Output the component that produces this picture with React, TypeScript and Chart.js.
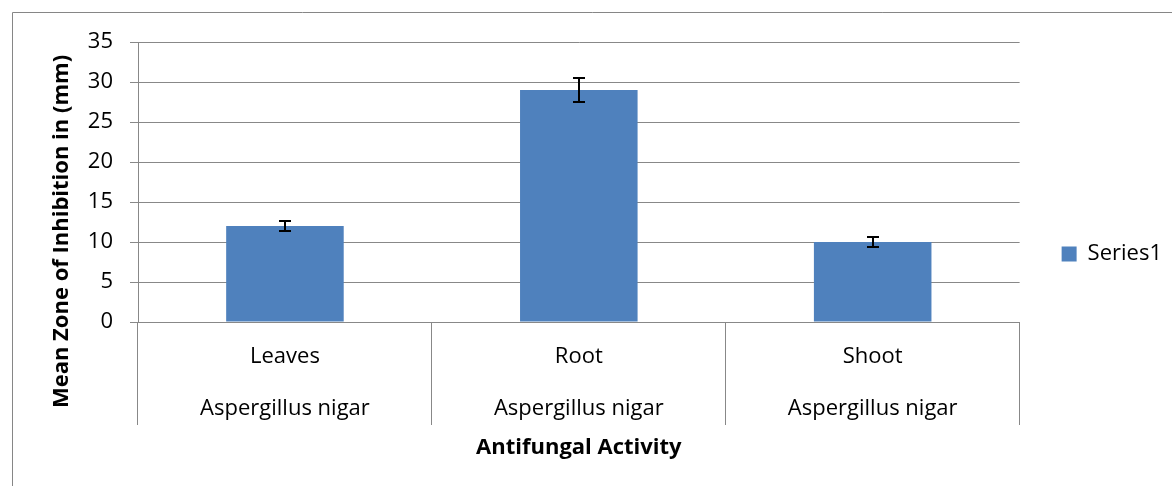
import React, { useEffect, useRef } from "react";
import { Chart, registerables } from "chart.js";

Chart.register(...registerables);

const categories = ["Leaves", "Root", "Shoot"];
const groupLabel = "Aspergillus nigar";
const seriesName = "Series1";
const values = [12, 29, 10];
const errors = [0.6, 1.5, 0.6];
const yMin = 0;
const yMax = 35;
const yStep = 5;
const xTitle = "Antifungal Activity";
const yTitle = "Mean Zone of Inhibition in (mm)";

const GRID = "#888888";
const FONT = "'Open Sans'";
const X_TICK_LEN = 103;

const framePlugin = {
  id: "frame",
  beforeDraw(chart: any) {
    const ctx = chart.ctx;
    ctx.save();
    ctx.fillStyle = "#ffffff";
    ctx.fillRect(0, 0, chart.width, chart.height);
    ctx.strokeStyle = "#868686";
    ctx.lineWidth = 1;
    ctx.beginPath();
    ctx.moveTo(12.5, chart.height);
    ctx.lineTo(12.5, 12.5);
    ctx.lineTo(chart.width, 12.5);
    ctx.stroke();
    ctx.restore();
  },
};

const yTitlePlugin = {
  id: "yTitle",
  afterDraw(chart: any) {
    const ctx = chart.ctx;
    const yScale = chart.scales.y;
    const xScale = chart.scales.x;
    const top = yScale.top;
    const bottom = xScale.top + X_TICK_LEN;
    const cy = (top + bottom) / 2 - 2;
    const cx = yScale.left + 62;
    ctx.save();
    ctx.translate(cx, cy);
    ctx.rotate(-Math.PI / 2);
    ctx.font = `bold 22px ${FONT}`;
    ctx.fillStyle = "#000000";
    ctx.textAlign = "center";
    ctx.textBaseline = "middle";
    ctx.fillText(yTitle, 0, 0);
    ctx.restore();
  },
};

const errorBarPlugin = {
  id: "errorBars",
  afterDatasetsDraw(chart: any) {
    const ctx = chart.ctx;
    const yScale = chart.scales.y;
    const meta = chart.getDatasetMeta(0);
    ctx.save();
    ctx.strokeStyle = "#000000";
    ctx.lineWidth = 2;
    meta.data.forEach((bar: any, i: number) => {
      const x = Math.round(bar.x);
      const top = Math.round(yScale.getPixelForValue(values[i] + errors[i]));
      const bot = Math.round(yScale.getPixelForValue(values[i] - errors[i]));
      ctx.beginPath();
      ctx.moveTo(x, top);
      ctx.lineTo(x, bot);
      ctx.moveTo(x - 6, top);
      ctx.lineTo(x + 6, top);
      ctx.moveTo(x - 6, bot);
      ctx.lineTo(x + 6, bot);
      ctx.stroke();
    });
    ctx.restore();
  },
};

export default function App() {
  const ref = useRef<HTMLCanvasElement | null>(null);

  useEffect(() => {
    if (!ref.current) return;
    Chart.defaults.font.family = FONT;
    Chart.defaults.color = "#000000";
    const chart = new Chart(ref.current, {
      type: "bar",
      data: {
        labels: categories.map((c) => [c, groupLabel]),
        datasets: [
          {
            label: seriesName,
            data: values,
            backgroundColor: "#4f81bd",
            borderWidth: 0,
            categoryPercentage: 1,
            barPercentage: 0.4,
          },
        ],
      },
      options: {
        animation: false,
        responsive: false,
        layout: { padding: { top: 42, left: 0, right: 0, bottom: 20 } },
        plugins: {
          legend: {
            position: "right",
            align: "center",
            labels: {
              boxWidth: 15,
              boxHeight: 15,
              padding: 10,
              font: { size: 22, family: FONT },
              color: "#000000",
            },
          },
          tooltip: { enabled: false },
        },
        scales: {
          x: {
            offset: true,
            grid: {
              offset: true,
              drawOnChartArea: false,
              drawTicks: true,
              tickLength: X_TICK_LEN,
              color: GRID,
              lineWidth: 1,
            },
            border: { display: true, color: GRID, width: 1 },
            ticks: {
              padding: -94,
              maxRotation: 0,
              minRotation: 0,
              autoSkip: false,
              font: { size: 22, family: FONT, lineHeight: 2.364 },
              color: "#000000",
            },
            title: {
              display: true,
              text: xTitle,
              font: { size: 22, weight: "bold", family: FONT },
              color: "#000000",
              padding: { top: 0, bottom: 5 },
            },
            afterFit: (s: any) => {
              s.height = 144;
            },
          },
          y: {
            min: yMin,
            max: yMax,
            ticks: {
              stepSize: yStep,
              padding: 17,
              font: { size: 22, family: FONT },
              color: "#000000",
            },
            grid: {
              color: GRID,
              lineWidth: 1,
              tickLength: 8,
              drawTicks: true,
            },
            border: { display: true, color: GRID, width: 1 },
            title: { display: false },
            afterFit: (s: any) => {
              s.width = 138;
            },
          },
          spacer: {
            type: "linear",
            position: "right",
            display: true,
            grid: { display: false, drawTicks: false },
            border: { display: false },
            ticks: { display: false },
            afterFit: (s: any) => {
              s.width = 32;
            },
          },
        },
      },
      plugins: [framePlugin, errorBarPlugin, yTitlePlugin],
    } as any);
    return () => chart.destroy();
  }, []);

  return (
    <div style={{ position: "fixed", left: 0, top: 0, width: 1172, height: 486, overflow: "hidden" }}>
      <canvas ref={ref} width={1172} height={486} style={{ display: "block" }} />
    </div>
  );
}
